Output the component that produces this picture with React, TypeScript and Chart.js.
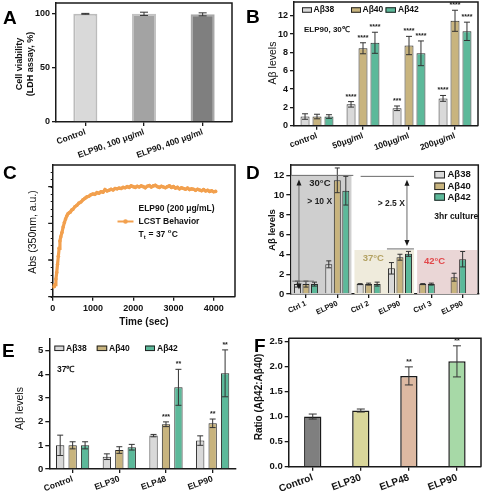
import React, { useEffect, useRef } from 'react';
import { Chart, registerables } from 'chart.js';
Chart.register(...registerables);

const FONT = '"Liberation Sans", Arial, Helvetica, sans-serif';
const font = (size: number, weight: string = 'bold') => `${weight} ${size}px ${FONT}`;

// ---------------- DATA ----------------
// Panel A
const aCategories = ['Control', 'ELP90, 100 μg/ml', 'ELP90, 400 μg/ml'];
const aViability = [100, 100, 99.5];
const aViabilityErr = [0.4, 1.5, 1.4];
const aYTicks = [0, 50, 100];

// Panel B
const bCategories = ['control', '50μg/ml', '100μg/ml', '200μg/ml'];
const bAb38 = [1.0, 2.33, 1.9, 2.98];
const bAb38Err = [0.3, 0.3, 0.25, 0.32];
const bAb40 = [1.0, 8.45, 8.75, 11.45];
const bAb40Err = [0.25, 0.6, 1.0, 1.15];
const bAb42 = [1.0, 9.05, 7.9, 10.3];
const bAb42Err = [0.2, 1.15, 1.35, 1.0];
const bAb38Stars = ['', '****', '***', '****'];
const bAb40Stars = ['', '****', '****', '****'];
const bAb42Stars = ['', '****', '****', '****'];
const bYTicks = [0, 2, 4, 6, 8, 10, 12];

// Panel C
const cTime = [0, 20, 40, 60, 80, 100, 120, 140, 160, 180, 200, 230, 260, 290, 320, 350, 380, 410, 440, 470, 500, 550, 600, 650, 700, 750, 800, 850, 900, 950, 1000, 1050, 1100, 1150, 1200, 1250, 1300, 1350, 1400, 1450, 1500, 1550, 1600, 1650, 1700, 1750, 1800, 1850, 1900, 1950, 2000, 2050, 2100, 2150, 2200, 2250, 2300, 2350, 2400, 2450, 2500, 2550, 2600, 2650, 2700, 2750, 2800, 2850, 2900, 2950, 3000, 3050, 3100, 3150, 3200, 3250, 3300, 3350, 3400, 3450, 3500, 3550, 3600, 3650, 3700, 3750, 3800, 3850, 3900, 3950, 4000, 4050];
const cAbs = [0.30, 0.27, 0.28, 0.33, 0.48, 0.66, 0.88, 1.10, 1.32, 1.52, 1.63, 1.75, 1.90, 2.02, 2.12, 2.20, 2.26, 2.29, 2.31, 2.36, 2.38, 2.45, 2.49, 2.55, 2.58, 2.64, 2.68, 2.72, 2.74, 2.78, 2.80, 2.79, 2.84, 2.82, 2.86, 2.85, 2.92, 2.88, 2.90, 2.93, 2.91, 2.95, 2.94, 2.96, 2.95, 2.98, 2.97, 3.00, 2.98, 3.02, 3.00, 2.98, 3.01, 2.99, 3.02, 3.00, 2.97, 3.01, 3.03, 2.99, 3.02, 3.04, 3.00, 2.98, 3.01, 2.99, 2.97, 3.00, 3.02, 2.98, 3.00, 2.96, 2.98, 2.94, 2.97, 2.95, 2.93, 2.96, 2.92, 2.94, 2.93, 2.90, 2.93, 2.91, 2.89, 2.92, 2.88, 2.90, 2.87, 2.89, 2.86, 2.87];
const cXTicks = [0, 1000, 2000, 3000, 4000];
const cYMajor = [0, 1, 2, 3];
const cYMinorStep = 0.2;

// Panel D (Aβ38 was not measured in the 42°C groups)
const dCategories = ['Ctrl 1', 'ELP90', 'Ctrl 2', 'ELP90', 'Ctrl 3', 'ELP90'];
const dAb38 = [1.0, 3.0, 1.0, 2.6, null, null];
const dAb38Err = [0.3, 0.35, 0.05, 0.58, null, null];
const dAb40 = [1.0, 11.5, 1.0, 3.72, 1.0, 1.7];
const dAb40Err = [0.3, 1.25, 0.1, 0.3, 0.05, 0.4];
const dAb42 = [1.0, 10.45, 1.0, 4.06, 1.0, 3.52];
const dAb42Err = [0.2, 1.45, 0.2, 0.25, 0.1, 0.78];
const dYTicks = [0, 2, 4, 6, 8, 10, 12];
const dRegionTops = [12, 4.45, 4.45];
const dFoldTop = [12, 11.9];
const dFoldBottom = [1.3, 4.56];

// Panel E
const eCategories = ['Control', 'ELP30', 'ELP48', 'ELP90'];
const eAb38 = [1.0, 0.52, 1.41, 1.2];
const eAb38Err = [0.43, 0.12, 0.05, 0.2];
const eAb40 = [1.0, 0.8, 1.89, 1.93];
const eAb40Err = [0.15, 0.14, 0.1, 0.18];
const eAb42 = [1.0, 0.92, 3.45, 4.04];
const eAb42Err = [0.15, 0.12, 0.76, 0.99];
const eAb40Stars = ['', '', '***', '**'];
const eAb42Stars = ['', '', '**', '**'];
const eYTicks = [0, 1, 2, 3, 4, 5];

// Panel F
const fCategories = ['Control', 'ELP30', 'ELP48', 'ELP90'];
const fRatio = [1.0, 1.12, 1.81, 2.1];
const fRatioErr = [0.05, 0.03, 0.18, 0.31];
const fStars = ['', '', '**', '**'];
const fYTicks = [0, 0.5, 1.0, 1.5, 2.0, 2.5];

// ---------------- STYLE ----------------
const AXIS = '#1a1a1a';
const C38 = '#d9d9d9';
const C40 = '#c8b47e';
const C42 = '#5cb99a';
const ORANGE = '#f2a04e';
const aColors = ['#d9d9d9', '#a3a3a3', '#7f7f7f'];
const aBorders = ['#bcbcbc', '#c2c2c2', '#a8a8a8'];
const fColors = ['#7f7f7f', '#d9d69a', '#ddb9a2', '#a7d9a7'];

type Area = { L: number; T: number; R: number; B: number };

function txt(ctx: CanvasRenderingContext2D, t: string, x: number, y: number, f: string, o: any = {}) {
  ctx.save();
  ctx.font = f;
  ctx.fillStyle = o.color ?? '#111';
  ctx.textAlign = o.align ?? 'left';
  ctx.textBaseline = o.base ?? 'middle';
  ctx.translate(x, y);
  if (o.rot) ctx.rotate(o.rot);
  ctx.fillText(t, 0, 0);
  ctx.restore();
}
const vtxt = (ctx: CanvasRenderingContext2D, t: string, x: number, y: number, f: string) =>
  txt(ctx, t, x, y, f, { align: 'center', rot: -Math.PI / 2 });

function letter(ctx: CanvasRenderingContext2D, t: string, x: number, y: number) {
  txt(ctx, t, x, y, font(19), { base: 'alphabetic', color: '#000' });
}

function boxLines(chart: any) {
  const { ctx, chartArea: a } = chart;
  ctx.save();
  ctx.strokeStyle = AXIS;
  ctx.lineWidth = 1.5;
  ctx.beginPath();
  ctx.moveTo(a.left, a.top);
  ctx.lineTo(a.right, a.top);
  ctx.lineTo(a.right, a.bottom);
  ctx.stroke();
  ctx.restore();
}

function legendEntry(ctx: CanvasRenderingContext2D, x: number, y: number, w: number, h: number, fill: string, label: string, tx: number, f: string) {
  ctx.save();
  ctx.fillStyle = fill;
  ctx.fillRect(x, y - h / 2, w, h);
  ctx.strokeStyle = '#222';
  ctx.lineWidth = 1;
  ctx.strokeRect(x + 0.5, y - h / 2 + 0.5, w - 1, h - 1);
  ctx.restore();
  txt(ctx, label, tx, y, f);
}

const fit = (size: number, horiz: boolean) => (s: any) => {
  if (horiz) s.height = size;
  else s.width = size;
  s.paddingLeft = 0;
  s.paddingRight = 0;
  s.paddingTop = 0;
  s.paddingBottom = 0;
};

function baseOptions(w: number, a: Area) {
  return {
    responsive: false,
    maintainAspectRatio: false,
    animation: false,
    devicePixelRatio: 1,
    layout: { padding: { left: 0, top: a.T, right: w - a.R, bottom: 0 } },
    plugins: { legend: { display: false }, tooltip: { enabled: false } },
  };
}

function catAxis(h: number, a: Area, size: number, rot: number) {
  return {
    type: 'category',
    offset: true,
    grid: { display: true, drawOnChartArea: false, drawTicks: true, tickLength: 4, offset: false, color: AXIS, lineWidth: 1.3 },
    border: { display: true, color: AXIS, width: 1.5 },
    ticks: { autoSkip: false, minRotation: rot, maxRotation: rot, padding: 1, color: '#111', font: { family: FONT, size, weight: 'bold' } },
    afterFit: fit(h - a.B, true),
  };
}

function linAxis(a: Area, min: number, max: number, ticks: number[], size: number, fmt?: (v: number) => string) {
  return {
    type: 'linear',
    min,
    max,
    grid: { display: true, drawOnChartArea: false, drawTicks: true, tickLength: 4, color: AXIS, lineWidth: 1.3 },
    border: { display: true, color: AXIS, width: 1.5 },
    ticks: { padding: 2, color: '#111', font: { family: FONT, size, weight: 'bold' }, callback: (v: any) => (fmt ? fmt(Number(v)) : String(v)) },
    afterBuildTicks: (s: any) => {
      s.ticks = ticks.map((v) => ({ value: v }));
    },
    afterFit: fit(a.L, false),
  };
}

const errorBars = {
  id: 'errorBars',
  afterDatasetsDraw(chart: any) {
    const ctx = chart.ctx;
    const ys = chart.scales.y;
    chart.data.datasets.forEach((ds: any, i: number) => {
      if (!ds.errors) return;
      const meta = chart.getDatasetMeta(i);
      meta.data.forEach((bar: any, j: number) => {
        const v = ds.data[j];
        const e = ds.errors[j];
        if (v == null || e == null) return;
        const x = bar.x;
        const yt = ys.getPixelForValue(v + e);
        const yb = ys.getPixelForValue(v - e);
        const c = (ds.capW ?? 5) / 2;
        ctx.save();
        ctx.strokeStyle = ds.errColor ?? '#333';
        ctx.lineWidth = 1;
        ctx.beginPath();
        ctx.moveTo(x, yt);
        ctx.lineTo(x, yb);
        ctx.moveTo(x - c, yt);
        ctx.lineTo(x + c, yt);
        ctx.moveTo(x - c, yb);
        ctx.lineTo(x + c, yb);
        ctx.stroke();
        ctx.restore();
        const s = ds.stars?.[j];
        if (s) txt(ctx, s, x, yt - 1.5, font(7), { align: 'center', base: 'bottom', color: '#222' });
      });
    });
  },
};

function overlay(after?: (chart: any, ctx: CanvasRenderingContext2D) => void, before?: (chart: any, ctx: CanvasRenderingContext2D) => void) {
  return {
    id: 'overlay',
    beforeDatasetsDraw(chart: any) {
      if (before) before(chart, chart.ctx);
    },
    afterDraw(chart: any) {
      if (after) after(chart, chart.ctx);
    },
  };
}

function barDs(label: string, data: any[], errors: any[], bg: any, extra: any = {}) {
  return { label, data, errors, backgroundColor: bg, borderColor: '#2a2a2a', borderWidth: 1, ...extra };
}

// ---------------- PANEL CONFIGS ----------------
function configA(w: number, h: number) {
  const a: Area = { L: 56, T: 3, R: 232, B: 122 };
  return {
    type: 'bar',
    data: {
      labels: aCategories,
      datasets: [
        { data: aViability, errors: aViabilityErr, capW: 8, backgroundColor: aColors, borderColor: aBorders, borderWidth: 2, borderSkipped: 'bottom', categoryPercentage: 1, barPercentage: 0.41 },
      ],
    },
    options: {
      ...baseOptions(w, a),
      scales: { x: catAxis(h, a, 8.5, 20), y: linAxis(a, 0, 110, aYTicks, 9) },
    },
    plugins: [
      errorBars,
      overlay((chart, ctx) => {
        boxLines(chart);
        letter(ctx, 'A', 3, 24);
        vtxt(ctx, 'Cell viability', 20, 64, font(9));
        vtxt(ctx, '(LDH assay, %)', 31, 64, font(9));
      }),
    ],
  };
}

function configB(w: number, h: number) {
  const a: Area = { L: 53, T: 2, R: 237, B: 125.7 };
  const ext = { categoryPercentage: 0.78, barPercentage: 0.75, capW: 6 };
  return {
    type: 'bar',
    data: {
      labels: bCategories,
      datasets: [
        barDs('Aβ38', bAb38, bAb38Err, C38, { ...ext, stars: bAb38Stars }),
        barDs('Aβ40', bAb40, bAb40Err, C40, { ...ext, stars: bAb40Stars }),
        barDs('Aβ42', bAb42, bAb42Err, C42, { ...ext, stars: bAb42Stars }),
      ],
    },
    options: {
      ...baseOptions(w, a),
      scales: { x: catAxis(h, a, 8.5, 20), y: linAxis(a, 0, 13.5, bYTicks, 9) },
    },
    plugins: [
      errorBars,
      overlay((chart, ctx) => {
        boxLines(chart);
        letter(ctx, 'B', 5, 23);
        vtxt(ctx, 'Aβ levels', 31.7, 63, font(10.5, 'normal'));
        const f = font(8.5);
        legendEntry(ctx, 61, 10, 10, 5.5, C38, 'Aβ38', 72.5, f);
        legendEntry(ctx, 110, 10, 10, 5.5, C40, 'Aβ40', 121.5, f);
        legendEntry(ctx, 144.5, 10, 10.5, 5.5, C42, 'Aβ42', 157, f);
        txt(ctx, 'ELP90, 30℃', 63, 29.5, font(8));
      }),
    ],
  };
}

function configC(w: number, h: number) {
  const a: Area = { L: 52.7, T: 5, R: 235, B: 136.7 };
  return {
    type: 'line',
    data: {
      datasets: [
        {
          label: 'LCST Behavior',
          data: cTime.map((t, i) => ({ x: t, y: cAbs[i] })),
          borderColor: ORANGE,
          backgroundColor: ORANGE,
          borderWidth: 3.2,
          pointRadius: 1.8,
          pointBorderWidth: 0,
          tension: 0,
        },
      ],
    },
    options: {
      ...baseOptions(w, a),
      scales: {
        x: {
          type: 'linear',
          min: 0,
          max: 4530,
          grid: { display: true, drawOnChartArea: false, drawTicks: true, tickLength: 4, color: AXIS, lineWidth: 1.3 },
          border: { display: true, color: AXIS, width: 1.5 },
          ticks: { padding: 2, color: '#111', font: { family: FONT, size: 9, weight: 'bold' }, callback: (v: any) => String(v) },
          afterBuildTicks: (s: any) => {
            s.ticks = cXTicks.map((v) => ({ value: v }));
          },
          afterFit: fit(h - a.B, true),
        },
        y: {
          type: 'linear',
          min: 0,
          max: 3.59,
          grid: { display: false },
          ticks: { display: false },
          border: { display: true, color: AXIS, width: 1.5 },
          afterFit: fit(a.L, false),
        },
      },
    },
    plugins: [
      overlay((chart, ctx) => {
        boxLines(chart);
        const ys = chart.scales.y;
        const L = chart.chartArea.left;
        ctx.save();
        ctx.strokeStyle = AXIS;
        ctx.lineWidth = 1;
        ctx.beginPath();
        for (let v = 0; v <= 3.59 + 1e-6; v += cYMinorStep) {
          const y = Math.round(ys.getPixelForValue(v)) + 0.5;
          ctx.moveTo(L, y);
          ctx.lineTo(L - 2, y);
        }
        ctx.stroke();
        ctx.lineWidth = 1.3;
        ctx.beginPath();
        cYMajor.forEach((v) => {
          const y = ys.getPixelForValue(v);
          ctx.moveTo(L, y);
          ctx.lineTo(L - 4.5, y);
        });
        ctx.stroke();
        ctx.restore();
        letter(ctx, 'C', 3, 18.5);
        vtxt(ctx, 'Abs (350nm, a.u.)', 33.3, 72, font(10.5, 'normal'));
        txt(ctx, 'Time (sec)', 144, 162, font(10), { align: 'center' });
        // legend
        const f = font(8.5);
        txt(ctx, 'ELP90 (200 μg/mL)', 138.5, 48.5, f);
        ctx.save();
        ctx.strokeStyle = ORANGE;
        ctx.fillStyle = ORANGE;
        ctx.lineWidth = 2;
        ctx.beginPath();
        ctx.moveTo(117.5, 61.5);
        ctx.lineTo(133.5, 61.5);
        ctx.stroke();
        ctx.beginPath();
        ctx.arc(125.5, 61.5, 2.3, 0, Math.PI * 2);
        ctx.fill();
        ctx.restore();
        txt(ctx, 'LCST Behavior', 138.5, 61.5, f);
        ctx.save();
        ctx.font = f;
        let x = 138.5;
        txt(ctx, 'T', x, 74.5, f);
        x += ctx.measureText('T').width;
        txt(ctx, 't', x, 77, font(6));
        ctx.font = font(6);
        x += ctx.measureText('t').width + 0.5;
        ctx.font = f;
        txt(ctx, ' = 37 ', x, 74.5, f);
        x += ctx.measureText(' = 37 ').width;
        txt(ctx, 'o', x, 71.5, font(6));
        ctx.font = font(6);
        x += ctx.measureText('o').width + 0.3;
        txt(ctx, 'C', x, 74.5, f);
        ctx.restore();
      }),
    ],
  };
}

function configD(w: number, h: number) {
  const a: Area = { L: 49.3, T: 5, R: 237.3, B: 134 };
  // Bars fill the group slots from the left; where Aβ38 is absent the other two shift one slot.
  const missing = dAb38.map((v) => v == null);
  const slot0 = dAb38.map((v, i) => (missing[i] ? dAb40[i] : v));
  const slot0e = dAb38Err.map((v, i) => (missing[i] ? dAb40Err[i] : v));
  const slot1 = dAb40.map((v, i) => (missing[i] ? dAb42[i] : v));
  const slot1e = dAb40Err.map((v, i) => (missing[i] ? dAb42Err[i] : v));
  const slot2 = dAb42.map((v, i) => (missing[i] ? null : v));
  const slot2e = dAb42Err.map((v, i) => (missing[i] ? null : v));
  const ext = { categoryPercentage: 0.815, barPercentage: 0.82, capW: 5 };
  return {
    type: 'bar',
    data: {
      labels: dCategories,
      datasets: [
        barDs('s0', slot0, slot0e, missing.map((m) => (m ? C40 : C38)), ext),
        barDs('s1', slot1, slot1e, missing.map((m) => (m ? C42 : C40)), ext),
        barDs('s2', slot2, slot2e, C42, ext),
      ],
    },
    options: {
      ...baseOptions(w, a),
      scales: { x: catAxis(h, a, 7.5, 25), y: linAxis(a, 0, 13.05, dYTicks, 9.5) },
    },
    plugins: [
      errorBars,
      overlay(
        (chart, ctx) => {
          const xs = chart.scales.x;
          const ys = chart.scales.y;
          const ca = chart.chartArea;
          boxLines(chart);
          letter(ctx, 'D', 5, 18.5);
          vtxt(ctx, 'Aβ levels', 31.7, 70, font(9.5));
          const line = (x0: number, x1: number, y: number) => {
            ctx.beginPath();
            ctx.moveTo(x0, y);
            ctx.lineTo(x1, y);
            ctx.stroke();
          };
          const arrow = (x: number, y0: number, y1: number) => {
            ctx.beginPath();
            ctx.moveTo(x, y0 + 5);
            ctx.lineTo(x, y1 - 5);
            ctx.stroke();
            ctx.beginPath();
            ctx.moveTo(x, y0);
            ctx.lineTo(x - 2.5, y0 + 6);
            ctx.lineTo(x + 2.5, y0 + 6);
            ctx.closePath();
            ctx.moveTo(x, y1);
            ctx.lineTo(x - 2.5, y1 - 6);
            ctx.lineTo(x + 2.5, y1 - 6);
            ctx.closePath();
            ctx.fill();
          };
          ctx.save();
          ctx.strokeStyle = '#6a6a6a';
          ctx.fillStyle = '#1a1a1a';
          ctx.lineWidth = 1;
          const x0 = xs.getPixelForValue(0);
          const x3 = xs.getPixelForValue(3);
          line(ca.left + 1, xs.getPixelForValue(1) + 16, ys.getPixelForValue(dFoldTop[0]));
          line(ca.left + 2, x0 + 8, ys.getPixelForValue(dFoldBottom[0]));
          arrow(x0 - 7, ys.getPixelForValue(dFoldTop[0]) + 4, ys.getPixelForValue(0.45));
          line(xs.getPixelForValue(2) - 8, x3 + 14, ys.getPixelForValue(dFoldTop[1]));
          line(x3 - 13, x3 + 14, ys.getPixelForValue(dFoldBottom[1]));
          arrow(x3 + 7, ys.getPixelForValue(dFoldTop[1]) + 3.5, ys.getPixelForValue(dFoldBottom[1]) - 3);
          ctx.restore();
          txt(ctx, '30°C', 68.3, 23.3, font(9.5), { color: '#222' });
          txt(ctx, '> 10 X', 66.3, 42, font(8.5), { color: '#222' });
          txt(ctx, '> 2.5 X', 136.7, 43.3, font(8.5), { color: '#222' });
          txt(ctx, '37°C', 121.7, 98.5, font(9.5), { color: '#b3a262' });
          txt(ctx, '42°C', 183, 101.5, font(9.5), { color: '#e2474a' });
          const f = font(9.5);
          legendEntry(ctx, 193.3, 14.7, 10.7, 7.5, C38, 'Aβ38', 206.5, f);
          legendEntry(ctx, 193.3, 26.3, 10.7, 7.5, C40, 'Aβ40', 206.5, f);
          legendEntry(ctx, 193.3, 37, 10.7, 7.5, C42, 'Aβ42', 206.5, f);
          txt(ctx, '3hr culture', 193.3, 56.7, font(8.5));
        },
        (chart, ctx) => {
          const xs = chart.scales.x;
          const ys = chart.scales.y;
          const ca = chart.chartArea;
          const half = (xs.getPixelForValue(1) - xs.getPixelForValue(0)) / 2;
          const fills = ['#cfcfcf', '#efebdc', '#ead6d6'];
          [0, 1, 2].forEach((g) => {
            const xa = g === 0 ? ca.left + 1 : xs.getPixelForValue(g * 2) - half + 1.5;
            const xb = g === 2 ? ca.right - 1 : xs.getPixelForValue(g * 2 + 1) + half - 1.5;
            const yt = ys.getPixelForValue(dRegionTops[g]);
            ctx.save();
            ctx.fillStyle = fills[g];
            ctx.fillRect(xa, yt, xb - xa, ca.bottom - yt);
            ctx.restore();
          });
        }
      ),
    ],
  };
}

function configE(w: number, h: number) {
  const a: Area = { L: 49.3, T: 13.3, R: 236, B: 144 };
  const ext = { categoryPercentage: 0.8, barPercentage: 0.67, capW: 6 };
  return {
    type: 'bar',
    data: {
      labels: eCategories,
      datasets: [
        barDs('Aβ38', eAb38, eAb38Err, C38, ext),
        barDs('Aβ40', eAb40, eAb40Err, C40, { ...ext, stars: eAb40Stars }),
        barDs('Aβ42', eAb42, eAb42Err, C42, { ...ext, stars: eAb42Stars }),
      ],
    },
    options: {
      ...baseOptions(w, a),
      scales: { x: catAxis(h, a, 8.5, 20), y: linAxis(a, 0, 5.52, eYTicks, 9.5) },
    },
    plugins: [
      errorBars,
      overlay((chart, ctx) => {
        letter(ctx, 'E', 2, 31.5);
        vtxt(ctx, 'Aβ levels', 20, 83.5, font(10.5, 'normal'));
        const f = font(8.5);
        legendEntry(ctx, 54.3, 23.3, 10, 5.5, C38, 'Aβ38', 66, f);
        legendEntry(ctx, 96.7, 23.3, 10.5, 5.5, C40, 'Aβ40', 109, f);
        legendEntry(ctx, 145, 23.3, 10, 5.5, C42, 'Aβ42', 157, f);
        txt(ctx, '37℃', 57, 45, font(8.5));
      }),
    ],
  };
}

function configF(w: number, h: number) {
  const a: Area = { L: 47.7, T: 13.3, R: 240, B: 141.7 };
  return {
    type: 'bar',
    data: {
      labels: fCategories,
      datasets: [
        { data: fRatio, errors: fRatioErr, stars: fStars, capW: 8, backgroundColor: fColors, borderColor: '#1a1a1a', borderWidth: 1.5, categoryPercentage: 1, barPercentage: 0.36 },
      ],
    },
    options: {
      ...baseOptions(w, a),
      scales: { x: catAxis(h, a, 10, 20), y: linAxis(a, 0, 2.56, fYTicks, 9.5, (v) => v.toFixed(1)) },
    },
    plugins: [
      errorBars,
      overlay((chart, ctx) => {
        boxLines(chart);
        letter(ctx, 'F', 13, 26.7);
        vtxt(ctx, 'Ratio (Aβ42:Aβ40)', 18, 72, font(10));
      }),
    ],
  };
}

function Panel({ x, y, w, h, make }: { x: number; y: number; w: number; h: number; make: (w: number, h: number) => any }) {
  const ref = useRef<HTMLCanvasElement>(null);
  useEffect(() => {
    const chart = new Chart(ref.current as HTMLCanvasElement, make(w, h));
    return () => chart.destroy();
  }, []);
  return <canvas ref={ref} width={w} height={h} style={{ position: 'absolute', left: x, top: y, width: w, height: h }} />;
}

export default function App() {
  return (
    <div style={{ position: 'fixed', left: 0, top: 0, width: 482, height: 493, background: '#fff', overflow: 'hidden' }}>
      <Panel x={0} y={0} w={241} h={160} make={configA} />
      <Panel x={241} y={0} w={241} h={160} make={configB} />
      <Panel x={0} y={160} w={241} h={170} make={configC} />
      <Panel x={241} y={160} w={241} h={165} make={configD} />
      <Panel x={0} y={325} w={241} h={168} make={configE} />
      <Panel x={241} y={325} w={241} h={168} make={configF} />
    </div>
  );
}
